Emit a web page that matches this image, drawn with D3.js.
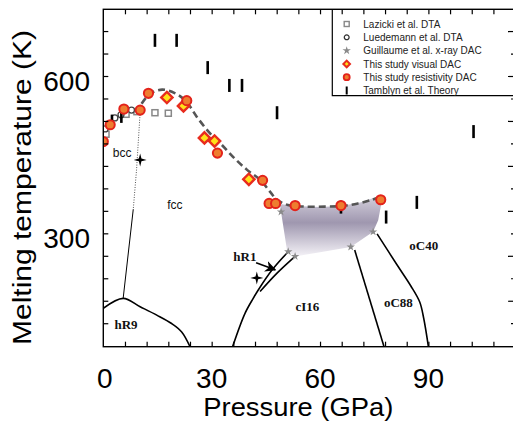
<!DOCTYPE html>
<html>
<head>
<meta charset="utf-8">
<script src="https://cdn.jsdelivr.net/npm/d3@7"></script>
<style>
  html, body { margin: 0; padding: 0; background: #fff; }
  svg { display: block; }
</style>
</head>
<body>
<div id="chart"></div>
<script>
// lithium melting curve, [pressure GPa, temperature K]
const lazicki = [[0.75, 489], [6.3, 527], [9.3, 532], [14.3, 530], [18.0, 529]];
const luedemann = [[0.5, 499], [3.2, 520], [4.9, 526], [7.8, 535]];
const guillaume = [[49.2, 341], [51.2, 265], [53.1, 256], [68.5, 274], [74.7, 303]];
const visualDAC = [[17.6, 559], [22.2, 543], [28.0, 482], [30.8, 476], [40.3, 403]];
const resistivityDAC = [
  [0, 475], [1.9, 507], [5.7, 537], [10.2, 535], [12.5, 567], [23.1, 553], [31.6, 453],
  [44.1, 401], [45.9, 357], [47.7, 357], [53.1, 353], [65.8, 353], [76.8, 364],
];
const tamblyn = [
  [2.4, 514], [5.0, 523], [14.3, 668], [20.3, 668], [28.9, 616], [34.9, 582], [38.4, 582],
  [48.1, 530], [65.8, 350], [78.3, 331], [86.8, 359], [102.5, 494],
];
const meltingCurve = [
  [10.6, 547], [12.9, 566], [16.3, 574], [19.9, 567], [22.9, 552], [25.9, 522], [29.5, 491],
  [32.9, 468], [36.2, 444], [39.8, 421], [43.4, 402], [46.2, 379], [48.1, 364], [51.1, 354],
  [55.8, 351], [61.4, 351], [66.1, 352], [70.5, 357], [74.4, 364], [77.2, 371],
];
const shadedRegion = [
  [48.9, 356], [53.1, 352], [60, 350], [65.8, 352], [71.1, 359], [77.2, 373], [76.9, 354],
  [76.1, 325], [74.7, 303], [68.5, 274], [60, 264], [53.1, 256], [50.9, 266], [49.2, 341],
];

// phase boundaries
const bccFccDotted = [[10.2, 531], [9.2, 421], [8.3, 346]];
const bccFccSolid = [[8.3, 346], [5.5, 176]];
const hR9Boundary = [[0, 157], [5.5, 176], [10.2, 160], [14.8, 144], [18.9, 128], [21.7, 112], [24, 84]];
const cI16Left = [[35.8, 84], [39.2, 147], [41.5, 176], [42.9, 192], [46.7, 230], [51.2, 265]];
const hR1Right = [[43.4, 189], [48.1, 224], [53.1, 256]];
const cI16oC88 = [[69.6, 268], [77.7, 84]];
const oC88oC40 = [[75.8, 299], [81.3, 240], [85.1, 200], [87.6, 169], [88.7, 138], [90, 84]];
const crosses = [[10.2, 440], [42.5, 215]];
const hR1Arrow = [[42.3, 244], [47.6, 230.5]];

const sansLabels = ['bcc', 'fcc'];
const sansLabelPos = [[5.2, 445], [19.8, 347]];
const serifLabels = ['hR9', 'hR1', 'cI16', 'oC88', 'oC40'];
const serifLabelPos = [[6.3, 118], [39.2, 247], [56.5, 152], [81.7, 160], [88.7, 269]];

const legendNames = [
  'Lazicki et al. DTA',
  'Luedemann et al. DTA',
  'Guillaume et al. x-ray DAC',
  'This study visual DAC',
  'This study resistivity DAC',
  'Tamblyn et al. Theory',
];
const xTickLabels = [0, 30, 60, 90];
const yTickLabels = [300, 600];

const width = 513;
const height = 424;

const x = d3.scaleLinear().domain([0, 113.7]).range([103.3, 514]);
const y = d3.scaleLinear().domain([83.8, 727.2]).range([346.7, 9.3]);

const svg = d3.select('#chart')
  .append('svg')
  .attr('width', width)
  .attr('height', height)
  .attr('viewBox', [0, 0, width, height]);

const defs = svg.append('defs');

defs.append('clipPath')
  .attr('id', 'plot-clip')
  .append('rect')
  .attr('x', x(0))
  .attr('y', y(727.2))
  .attr('width', x(113.7) - x(0))
  .attr('height', y(83.8) - y(727.2));

const grad = defs.append('linearGradient')
  .attr('id', 'shade')
  .attr('x1', 0).attr('y1', 0)
  .attr('x2', 0).attr('y2', 1);
grad.append('stop').attr('offset', '0%').attr('stop-color', '#d6d2de');
grad.append('stop').attr('offset', '45%').attr('stop-color', '#9f97af');
grad.append('stop').attr('offset', '100%').attr('stop-color', '#f4f2f7');

defs.append('marker')
  .attr('id', 'arrow')
  .attr('viewBox', '0 -5 10 10')
  .attr('refX', 9)
  .attr('refY', 0)
  .attr('markerWidth', 7)
  .attr('markerHeight', 7)
  .attr('orient', 'auto')
  .append('path')
  .attr('d', 'M0,-5L10,0L0,5L3,0Z')
  .attr('fill', '#000');

// four-pointed star used for the two crosses
const sparkle = {
  draw(ctx, size) {
    const r = Math.sqrt(size);
    const w = r * 0.2;
    ctx.moveTo(0, -r);
    ctx.lineTo(w, -w);
    ctx.lineTo(r, 0);
    ctx.lineTo(w, w);
    ctx.lineTo(0, r);
    ctx.lineTo(-w, w);
    ctx.lineTo(-r, 0);
    ctx.lineTo(-w, -w);
    ctx.closePath();
  },
};

const line = d3.line().x((d) => x(d[0])).y((d) => y(d[1]));
const smooth = d3.line().x((d) => x(d[0])).y((d) => y(d[1])).curve(d3.curveCatmullRom);

const plot = svg.append('g').attr('clip-path', 'url(#plot-clip)');

plot.append('path')
  .datum(shadedRegion)
  .attr('d', line.curve(d3.curveLinearClosed))
  .attr('fill', 'url(#shade)');
line.curve(d3.curveLinear);

// phase boundaries
plot.append('path')
  .datum(bccFccDotted)
  .attr('d', line)
  .attr('fill', 'none')
  .attr('stroke', '#555')
  .attr('stroke-width', 1)
  .attr('stroke-dasharray', '1,1.5');

[bccFccSolid, hR9Boundary, cI16Left, hR1Right, cI16oC88, oC88oC40].forEach((b) => {
  plot.append('path')
    .datum(b)
    .attr('d', b.length > 2 ? smooth : line)
    .attr('fill', 'none')
    .attr('stroke', '#000')
    .attr('stroke-width', b === bccFccSolid ? 1 : 1.6);
});

plot.append('path')
  .datum(hR1Arrow)
  .attr('d', line)
  .attr('stroke', '#000')
  .attr('stroke-width', 1.6)
  .attr('marker-end', 'url(#arrow)');

// melting curve
plot.append('path')
  .datum(meltingCurve)
  .attr('d', smooth)
  .attr('fill', 'none')
  .attr('stroke', '#555')
  .attr('stroke-width', 2.6)
  .attr('stroke-dasharray', '7,4');

// markers
plot.selectAll('.lazicki')
  .data(lazicki)
  .join('rect')
  .attr('class', 'lazicki')
  .attr('x', (d) => x(d[0]) - 3)
  .attr('y', (d) => y(d[1]) - 3)
  .attr('width', 6)
  .attr('height', 6)
  .attr('fill', '#fff')
  .attr('stroke', '#888')
  .attr('stroke-width', 1.5);

plot.selectAll('.luedemann')
  .data(luedemann)
  .join('circle')
  .attr('class', 'luedemann')
  .attr('cx', (d) => x(d[0]))
  .attr('cy', (d) => y(d[1]))
  .attr('r', 3)
  .attr('fill', '#fff')
  .attr('stroke', '#444')
  .attr('stroke-width', 1.3);

plot.selectAll('.guillaume')
  .data(guillaume)
  .join('path')
  .attr('class', 'guillaume')
  .attr('transform', (d) => `translate(${x(d[0])},${y(d[1])})`)
  .attr('d', d3.symbol(d3.symbolStar, 22))
  .attr('fill', '#8a8a8a');

plot.selectAll('.tamblyn')
  .data(tamblyn)
  .join('rect')
  .attr('class', 'tamblyn')
  .attr('x', (d) => x(d[0]) - 1.3)
  .attr('y', (d) => y(d[1]) - 6.5)
  .attr('width', 2.6)
  .attr('height', 13)
  .attr('fill', '#000');

plot.selectAll('.visual')
  .data(visualDAC)
  .join('path')
  .attr('class', 'visual')
  .attr('transform', (d) => `translate(${x(d[0])},${y(d[1])}) rotate(45)`)
  .attr('d', d3.symbol(d3.symbolSquare, 64))
  .attr('fill', '#ffe21a')
  .attr('stroke', '#e82c1e')
  .attr('stroke-width', 2.4);

plot.selectAll('.resist')
  .data(resistivityDAC)
  .join('circle')
  .attr('class', 'resist')
  .attr('cx', (d) => x(d[0]))
  .attr('cy', (d) => y(d[1]))
  .attr('r', 4.6)
  .attr('fill', '#ee7d2f')
  .attr('stroke', '#e3231b')
  .attr('stroke-width', 2);

plot.selectAll('.cross')
  .data(crosses)
  .join('path')
  .attr('class', 'cross')
  .attr('transform', (d) => `translate(${x(d[0])},${y(d[1])})`)
  .attr('d', d3.symbol(sparkle, 42))
  .attr('fill', '#000');

// phase labels
plot.selectAll('.sans-label')
  .data(sansLabels)
  .join('text')
  .attr('class', 'sans-label')
  .attr('x', (d, i) => x(sansLabelPos[i][0]))
  .attr('y', (d, i) => y(sansLabelPos[i][1]))
  .attr('text-anchor', 'middle')
  .attr('font-family', 'Liberation Sans, Arial, sans-serif')
  .attr('font-size', 12)
  .attr('fill', '#111')
  .text((d) => d);

plot.selectAll('.serif-label')
  .data(serifLabels)
  .join('text')
  .attr('class', 'serif-label')
  .attr('x', (d, i) => x(serifLabelPos[i][0]))
  .attr('y', (d, i) => y(serifLabelPos[i][1]))
  .attr('text-anchor', 'middle')
  .attr('font-family', 'Liberation Serif, Times New Roman, serif')
  .attr('font-size', 13)
  .attr('font-weight', 'bold')
  .attr('fill', '#111')
  .text((d) => d);

// frame and ticks
const frame = svg.append('g');
const yStep = 300 / 7;
const xMinor = d3.range(6, 113, 6);
const yMinor = d3.range(300 - 4 * yStep, 700, yStep);

frame.append('g')
  .attr('transform', `translate(0,${y(83.8)})`)
  .call(d3.axisBottom(x).tickValues(xMinor).tickSize(-5).tickFormat(''));
frame.append('g')
  .attr('transform', `translate(0,${y(727.2)})`)
  .call(d3.axisTop(x).tickValues(xMinor).tickSize(-5).tickFormat(''));
frame.append('g')
  .attr('transform', `translate(${x(0)},0)`)
  .call(d3.axisLeft(y).tickValues(yMinor).tickSize(-5).tickFormat(''));
frame.append('g')
  .attr('transform', `translate(${x(113.7)},0)`)
  .call(d3.axisRight(y).tickValues(yMinor.filter((d, i) => i % 2 === 1)).tickSize(-6).tickFormat(''));
frame.append('g')
  .attr('transform', `translate(${x(113.7)},0)`)
  .call(d3.axisRight(y).tickValues(yMinor.filter((d, i) => i % 2 === 0)).tickSize(-3).tickFormat(''));

frame.selectAll('.domain').remove();
frame.selectAll('.tick line').attr('stroke', '#000').attr('stroke-width', 1.2);

frame.append('rect')
  .attr('x', x(0))
  .attr('y', y(727.2))
  .attr('width', x(113.7) - x(0))
  .attr('height', y(83.8) - y(727.2))
  .attr('fill', 'none')
  .attr('stroke', '#000')
  .attr('stroke-width', 1.4);

// legend
const legend = svg.append('g').attr('transform', 'translate(332.3,9.3)');
legend.append('path')
  .attr('d', 'M0,0V86.4H190')
  .attr('fill', 'none')
  .attr('stroke', '#000')
  .attr('stroke-width', 1.2);

const rows = legend.selectAll('.row')
  .data(legendNames)
  .join('g')
  .attr('class', 'row')
  .attr('transform', (d, i) => `translate(14.4,${14.7 + i * 13.3})`);

rows.append('text')
  .attr('x', 16.6)
  .attr('y', 3.6)
  .attr('font-family', 'Liberation Sans, Arial, sans-serif')
  .attr('font-size', 10)
  .attr('fill', '#222')
  .text((d) => d);

rows.filter((d, i) => i === 0).append('rect')
  .attr('x', -2.5).attr('y', -2.5).attr('width', 5).attr('height', 5)
  .attr('fill', '#fff').attr('stroke', '#888').attr('stroke-width', 1.4);
rows.filter((d, i) => i === 1).append('circle')
  .attr('r', 2.4).attr('fill', '#fff').attr('stroke', '#333').attr('stroke-width', 1.3);
rows.filter((d, i) => i === 2).append('path')
  .attr('d', d3.symbol(d3.symbolStar, 22)).attr('fill', '#8a8a8a');
rows.filter((d, i) => i === 3).append('path')
  .attr('transform', 'rotate(45)')
  .attr('d', d3.symbol(d3.symbolSquare, 22))
  .attr('fill', '#ffe21a').attr('stroke', '#e82c1e').attr('stroke-width', 2);
rows.filter((d, i) => i === 4).append('circle')
  .attr('r', 3).attr('fill', '#ee7d2f').attr('stroke', '#e3231b').attr('stroke-width', 1.8);
rows.filter((d, i) => i === 5).append('rect')
  .attr('x', -1).attr('y', -4).attr('width', 2).attr('height', 8).attr('fill', '#000');

// tick labels and titles
svg.append('g')
  .selectAll('text')
  .data(xTickLabels)
  .join('text')
  .attr('x', (d) => x(d) + (d === 0 ? 1.5 : 0))
  .attr('y', 387.5)
  .attr('text-anchor', 'middle')
  .attr('font-family', 'Liberation Sans, Arial, sans-serif')
  .attr('font-size', 28)
  .attr('fill', '#000')
  .text((d) => d);

svg.append('g')
  .selectAll('text')
  .data(yTickLabels)
  .join('text')
  .attr('x', 90)
  .attr('y', (d) => y(d) + 14.5)
  .attr('text-anchor', 'end')
  .attr('font-family', 'Liberation Sans, Arial, sans-serif')
  .attr('font-size', 28)
  .attr('fill', '#000')
  .text((d) => d);

svg.append('text')
  .attr('x', 298.3)
  .attr('y', 416)
  .attr('text-anchor', 'middle')
  .attr('font-family', 'Liberation Sans, Arial, sans-serif')
  .attr('font-size', 25)
  .attr('textLength', 190)
  .attr('lengthAdjust', 'spacingAndGlyphs')
  .attr('fill', '#000')
  .text('Pressure (GPa)');

svg.append('text')
  .attr('transform', 'translate(31,187.5) rotate(-90)')
  .attr('text-anchor', 'middle')
  .attr('font-family', 'Liberation Sans, Arial, sans-serif')
  .attr('font-size', 25)
  .attr('textLength', 315)
  .attr('lengthAdjust', 'spacingAndGlyphs')
  .attr('fill', '#000')
  .text('Melting temperature (K)');
</script>
</body>
</html>
